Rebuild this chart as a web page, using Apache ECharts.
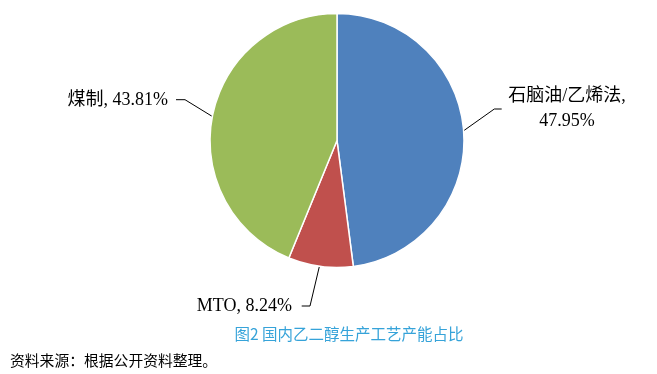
<!DOCTYPE html>
<html>
<head>
<meta charset="utf-8">
<script src="https://cdn.jsdelivr.net/npm/echarts@6/dist/echarts.min.js"></script>
<style>
html,body{margin:0;padding:0;background:#fff;}
#main{width:657px;height:374px;}
</style>
</head>
<body>
<div id="main"></div>
<script>
var categories = ['石脑油/乙烯法', 'MTO', '煤制'];
var values = [47.95, 8.24, 43.81];
var colors = ['#4F81BD', '#C0504D', '#9BBB59'];
var captionText = '图2 国内乙二醇生产工艺产能占比';
var sourceText = '资料来源：根据公开资料整理。';

var chart = echarts.init(document.getElementById('main'));
var serif = "'Liberation Serif', 'Times New Roman', 'Noto Sans CJK SC', serif";

var labelPos = [
  {x: 567, y: 109, align: 'center', pts: [[462.3, 131.7], [494.3, 109], [501.7, 109]]},
  {x: 292, y: 306, align: 'right', pts: [[319.3, 266.7], [310, 306], [301.7, 306]]},
  {x: 168, y: 100, align: 'right', pts: [[212.7, 116.7], [185, 99.7], [176, 99.7]]}
];

chart.setOption({
  animation: false,
  backgroundColor: '#fff',
  title: [
    {
      text: captionText,
      left: 344, top: 321, textAlign: 'center',
      textStyle: {fontSize: 15.5, fontWeight: 'normal', color: '#36A3D9', fontFamily: "'Noto Sans CJK SC', sans-serif"}
    },
    {
      text: sourceText,
      left: 5, top: 348,
      textStyle: {fontSize: 14.8, fontWeight: 'normal', color: '#000', fontFamily: "'Noto Sans CJK SC', sans-serif"}
    }
  ],
  series: [{
    type: 'pie',
    center: [337, 140.5],
    radius: [0, 127],
    startAngle: 90,
    clockwise: true,
    color: colors,
    itemStyle: {borderColor: '#fff', borderWidth: 1.5},
    data: categories.map(function (c, i) { return {name: c, value: values[i]}; }),
    label: {
      show: true,
      color: '#000',
      fontSize: 18,
      lineHeight: 25,
      fontFamily: serif,
      formatter: function (p) {
        return p.name + ',' + (p.dataIndex === 0 ? '\n' : ' ') + values[p.dataIndex].toFixed(2) + '%';
      }
    },
    labelLine: {show: true, lineStyle: {color: '#000', width: 1}},
    labelLayout: function (params) {
      var lp = labelPos[params.dataIndex];
      return {
        x: lp.x, y: lp.y, align: lp.align, verticalAlign: 'middle',
        labelLinePoints: lp.pts
      };
    }
  }]
});
</script>
</body>
</html>
